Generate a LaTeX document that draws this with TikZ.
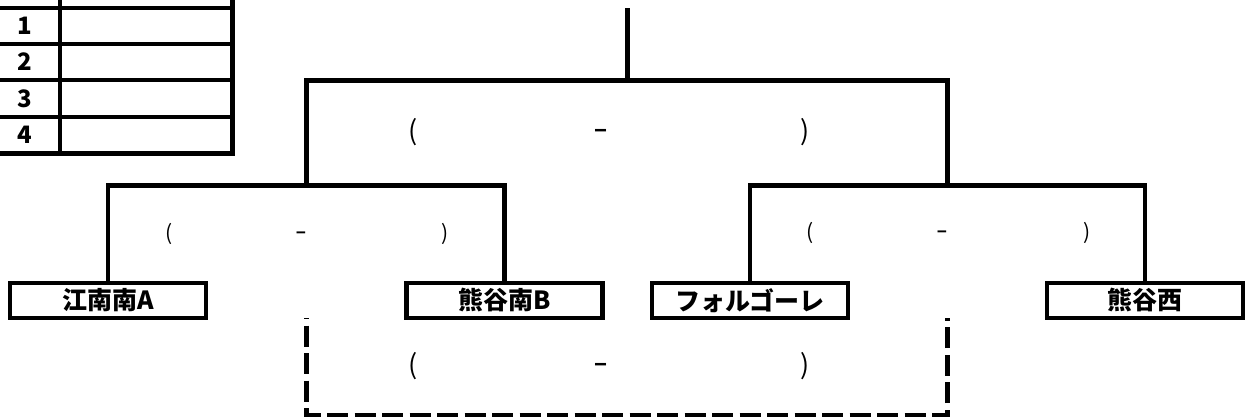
\documentclass[tikz,border=0pt]{standalone}
\usepackage{fontspec}
\newfontfamily\jp{Noto Sans CJK JP}
\tikzset{
  line/.style={line width=4.5pt},
  namebox/.style={draw, line width=4.5pt, minimum width=196pt, minimum height=35pt, inner sep=0pt,
    font=\jp\bfseries\fontsize{25}{25}\selectfont},
  numcell/.style={inner sep=0pt, font=\jp\bfseries\fontsize{24}{24}\selectfont},
  biglab/.style={inner sep=0pt, text height=20pt, text depth=6pt, font=\jp\fontsize{27}{27}\selectfont},
  smalllab/.style={inner sep=0pt, text height=15pt, text depth=5pt, font=\jp\fontsize{21}{21}\selectfont},
}
\begin{document}
\begin{tikzpicture}[x=1pt,y=-1pt]
\useasboundingbox (0,0) rectangle (1247,417);
\clip (0,0) rectangle (1247,417);

% table
\draw[line] (-10,8) -- (232.5,8);
\draw[line] (-10,44) -- (232.5,44);
\draw[line] (-10,80) -- (232.5,80);
\draw[line] (-10,117) -- (232.5,117);
\draw[line] (60,-10) -- (60,153.5);
\draw[line] (-10,153.5) -- (232.5,153.5) -- (232.5,-10);
\node[numcell] (n1) at (25,26) {1};
\node[numcell] (n2) at (25,62) {2};
\node[numcell] (n3) at (25,98.5) {3};
\node[numcell] (n4) at (25,135) {4};

% teams
\node[namebox] (b1) at (108,300.5) {江南南A};
\node[namebox] (b2) at (504.5,300.5) {熊谷南B};
\node[namebox] (b3) at (750,300.5) {フォルゴーレ};
\node[namebox] (b4) at (1145,300.5) {熊谷西};

% joints
\coordinate (s1) at (306.5,185.5);
\coordinate (s2) at (947.5,185.5);
\coordinate (c) at (627.5,80.5);
\coordinate (top) at (627.5,8);
\coordinate (d1) at (306.5,318);
\coordinate (d2) at (947.5,318);

% brackets
\draw[line] (b1.north) -- (b1.north |- s1) -- (b2.north |- s1) -- (b2.north);
\draw[line] (b3.north) -- (b3.north |- s2) -- (b4.north |- s2) -- (b4.north);
\draw[line] (s1) -- (s1 |- c) -- (s2 |- c) -- (s2);
\draw[line] (c) -- (top);
\draw[line, dash pattern=on 21pt off 6.5pt, dash phase=20pt] (d1) -- (d1 |- 0,415) -- (d2 |- 0,415) -- (d2);

% score labels
\node[biglab] (t1) at (413,134) {(};
\node[biglab] (t2) at (601,134) {\scalebox{1.6}[1.3]{-}};
\node[biglab] (t3) at (805,134) {)};
\node[smalllab] (l1) at (169,235) {(};
\node[smalllab] (l2) at (301,235) {\scalebox{1.6}[1.3]{-}};
\node[smalllab] (l3) at (445,235) {)};
\node[smalllab] (r1) at (810,234) {(};
\node[smalllab] (r2) at (942,234) {\scalebox{1.6}[1.3]{-}};
\node[smalllab] (r3) at (1087,234) {)};
\node[biglab] (d1l) at (413,367) {(};
\node[biglab] (d2l) at (601,367) {\scalebox{1.6}[1.3]{-}};
\node[biglab] (d3l) at (805,367) {)};
\end{tikzpicture}
\end{document}
